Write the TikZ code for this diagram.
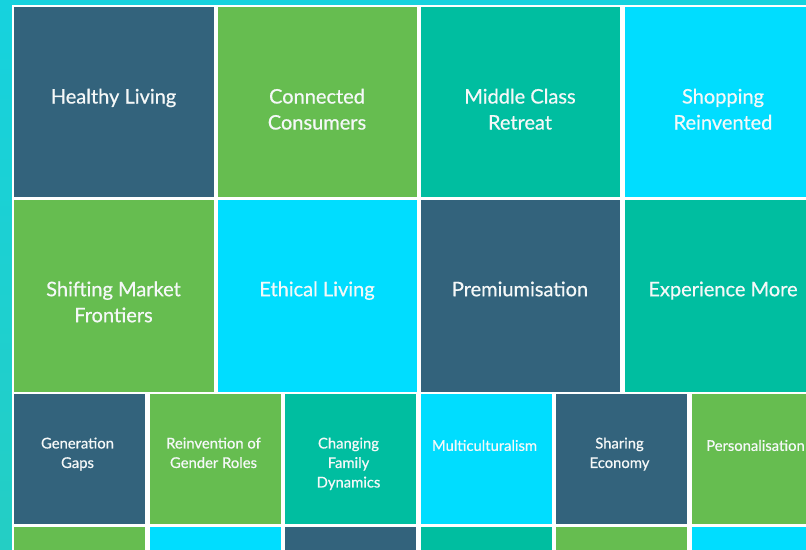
\documentclass[tikz,border=0pt]{standalone}
\usepackage{fontspec}
\setmainfont{Lato}[FakeBold=0.6]
\definecolor{cdark}{RGB}{51,99,124}
\definecolor{cgreen}{RGB}{102,189,80}
\definecolor{cteal}{RGB}{0,190,160}
\definecolor{ccyan}{RGB}{0,221,255}
\definecolor{bgtop}{RGB}{22,210,222}
\definecolor{bgbot}{RGB}{36,206,196}
\definecolor{txt}{RGB}{245,248,248}
\tikzset{
  big/.style={anchor=north, inner sep=0pt, align=center, text=txt,
    font=\fontsize{20}{26}\selectfont},
  small/.style={anchor=north, inner sep=0pt, align=center, text=txt,
    font=\fontsize{14.8}{19.5}\selectfont},
}
\begin{document}
\begin{tikzpicture}[x=1pt,y=-1pt]
\useasboundingbox (0,0) rectangle (806,549);
\shade[top color=bgtop, bottom color=bgbot] (0,0) rectangle (806,549);
\fill[white] (12,5) rectangle (830,560);
% row 1
\fill[cdark]  (14,7) rectangle (214,197);
\fill[cgreen] (218,7) rectangle (417,197);
\fill[cteal]  (421,7) rectangle (620,197);
\fill[ccyan]  (625,7) rectangle (825,197);
% row 2
\fill[cgreen] (14,200) rectangle (214,392);
\fill[ccyan]  (218,200) rectangle (417,392);
\fill[cdark]  (421,200) rectangle (620,392);
\fill[cteal]  (625,200) rectangle (825,392);
% row 3
\fill[cdark]  (14,394) rectangle (145,524);
\fill[cgreen] (150,394) rectangle (281,524);
\fill[cteal]  (285,394) rectangle (416,524);
\fill[ccyan]  (421,394) rectangle (552,524);
\fill[cdark]  (556,394) rectangle (687,524);
\fill[cgreen] (692,394) rectangle (823,524);
% row 4
\fill[cgreen] (14,527) rectangle (145,560);
\fill[ccyan]  (150,527) rectangle (281,560);
\fill[cdark]  (285,527) rectangle (416,560);
\fill[cteal]  (421,527) rectangle (552,560);
\fill[cgreen] (556,527) rectangle (687,560);
\fill[ccyan]  (692,527) rectangle (823,560);
% labels row 1
\node[big] (hl) at (113.5,85.1) {\strut Healthy Living};
\node[big] (cc) at (317,85.1) {\strut Connected\\Consumers};
\node[big] (mc) at (520,85.1) {\strut Middle Class\\Retreat};
\node[big] (sr) at (723,85.1) {\strut Shopping\\Reinvented};
% labels row 2
\node[big] (sm) at (113.5,277.8) {\strut Shifting Market\\Frontiers};
\node[big] (el) at (317,277.8) {\strut Ethical Living};
\node[big] (pm) at (520,277.8) {\strut Premiumisation};
\node[big] (em) at (723,277.8) {\strut Experience More};
% labels row 3
\node[small] (gg) at (77.5,434.6) {\strut Generation\\Gaps};
\node[small] (rg) at (213.5,434.6) {\strut Reinvention of\\Gender Roles};
\node[small] (cf) at (348.5,434.6) {\strut Changing\\Family\\Dynamics};
\node[small] (mu) at (484.5,437.0) {\strut Multiculturalism};
\node[small] (se) at (619.5,434.6) {\strut Sharing\\Economy};
\node[small] (pe) at (755.5,437.0) {\strut Personalisation};
\end{tikzpicture}
\end{document}
